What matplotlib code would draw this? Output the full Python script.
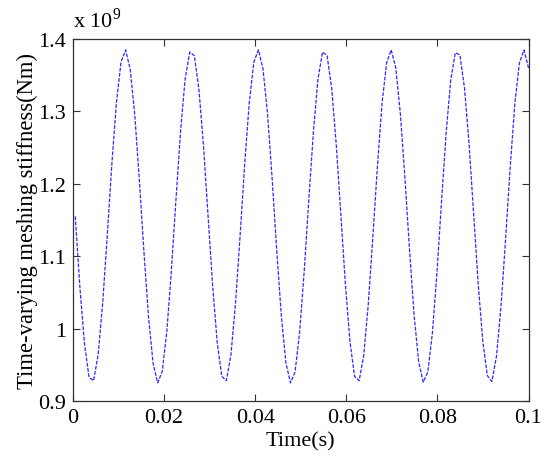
import numpy as np
import matplotlib.pyplot as plt

plt.rcParams['font.family'] = ['Liberation Serif', 'DejaVu Serif']
plt.rcParams['mathtext.fontset'] = 'custom'
plt.rcParams['mathtext.rm'] = 'Liberation Serif'

# stiffness samples, in units of 1e9 Nm
stiffness = [
    1.155, 1.058, 0.980, 0.933, 0.928, 0.964, 1.036, 1.130, 1.228, 1.313,
    1.368, 1.385, 1.358, 1.295, 1.205, 1.106, 1.016, 0.952, 0.925, 0.941,
    0.996, 1.081, 1.179, 1.273, 1.345, 1.382, 1.377, 1.331, 1.253, 1.156,
    1.060, 0.981, 0.934, 0.928, 0.964, 1.035, 1.128, 1.227, 1.312, 1.368,
    1.385, 1.359, 1.296, 1.207, 1.108, 1.018, 0.953, 0.925, 0.940, 0.995,
    1.079, 1.177, 1.271, 1.344, 1.382, 1.377, 1.332, 1.254, 1.158, 1.061,
    0.982, 0.934, 0.928, 0.963, 1.034, 1.127, 1.225, 1.311, 1.367, 1.385,
    1.360, 1.297, 1.208, 1.109, 1.019, 0.954, 0.926, 0.940, 0.994, 1.078,
    1.176, 1.270, 1.343, 1.381, 1.378, 1.333, 1.256, 1.159, 1.062, 0.983,
    0.935, 0.927, 0.962, 1.032, 1.125, 1.224, 1.310, 1.367, 1.385, 1.360,
]
time = np.linspace(0.0005, 0.1, len(stiffness))

xticks = [0, 0.02, 0.04, 0.06, 0.08, 0.1]
xlabels = ['0', '0.02', '0.04', '0.06', '0.08', '0.1']
yticks = [0.9, 1.0, 1.1, 1.2, 1.3, 1.4]
ylabels = ['0.9', '1', '1.1', '1.2', '1.3', '1.4']

fig = plt.figure(figsize=(5.5, 4.64), dpi=100)
ax = fig.add_axes([0.1327, 0.1336, 0.8283, 0.7802])
ax.plot(time, stiffness, color='#2a2aff', lw=0.9, linestyle=(0, (3, 1.2)))

ax.set_xlim(0, 0.1)
ax.set_ylim(0.9, 1.4)
ax.set_xticks(xticks)
ax.set_xticklabels(xlabels)
ax.set_yticks(yticks)
ax.set_yticklabels(ylabels)
ax.tick_params(direction='in', length=5, width=0.8, top=True, right=True,
               labelsize=16, colors='#333333', labelcolor='black', pad=5)
for s in ax.spines.values():
    s.set_color('#333333')
    s.set_linewidth(0.9)

ax.set_xlabel('Time(s)', fontsize=16, labelpad=3)
ax.set_ylabel('Time-varying meshing stiffness(Nm)', fontsize=16.3, labelpad=0)
ax.text(0.0, 1.02, r'x 10$^{9}$', transform=ax.transAxes, fontsize=16,
        ha='left', va='bottom')

fig.savefig('out.png', dpi=100)
